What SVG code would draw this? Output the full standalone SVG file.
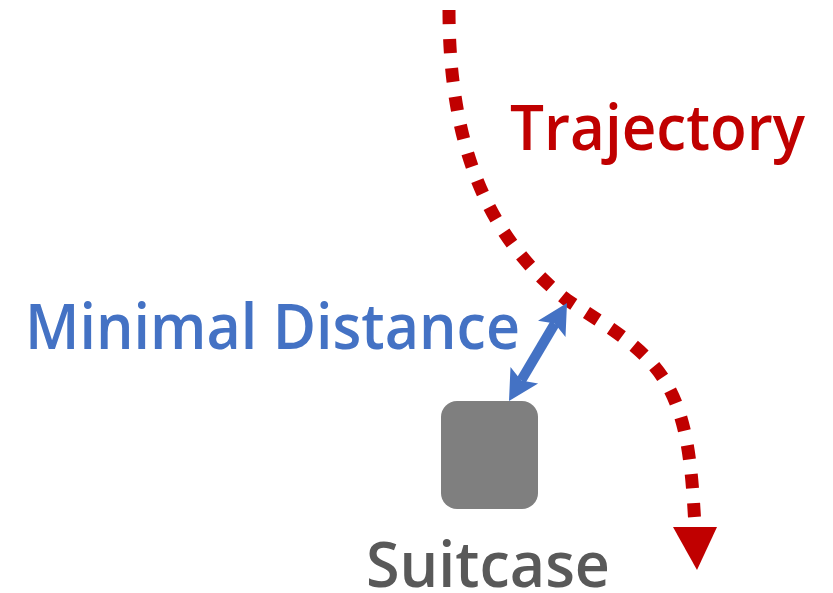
<svg xmlns="http://www.w3.org/2000/svg" width="833" height="593" viewBox="0 0 833 593">
<style>
.lbl{font-family:"Open Sans","Noto Sans","Liberation Sans",sans-serif;font-weight:600;font-size:63px}
.traj{fill:none;stroke:#c00000;stroke-width:13;stroke-dasharray:14 15}
</style>
<rect width="833" height="593" fill="#ffffff"/>
<g id="connectors">
  <path class="traj" d="M449,10 C449,150 490,240 567,300 C610,328 650,350 670,390 C688,425 692,470 695,527"/>
  <polygon points="673,527 717,527 697,570" fill="#c00000"/>
  <line x1="554.8" y1="323.6" x2="521.2" y2="380.4" stroke="#4472c4" stroke-width="10"/>
  <polygon points="567,303 565.5,337 554.8,323.6 538,320.7" fill="#4472c4"/>
  <polygon points="509,401 538.1,383.4 521.2,380.4 510.5,367" fill="#4472c4"/>
</g>
<g id="trajectory-label">
  <text class="lbl" x="510" y="150" fill="#c00000" textLength="295" lengthAdjust="spacingAndGlyphs">Trajectory</text>
</g>
<g id="distance-label">
  <text class="lbl" x="25" y="349" fill="#4472c4" textLength="495" lengthAdjust="spacingAndGlyphs">Minimal Distance</text>
</g>
<g id="suitcase">
  <rect x="441" y="401" width="97" height="108" rx="16" fill="#7f7f7f"/>
  <text class="lbl" x="366" y="587" fill="#595959" textLength="244" lengthAdjust="spacingAndGlyphs">Suitcase</text>
</g>
</svg>
